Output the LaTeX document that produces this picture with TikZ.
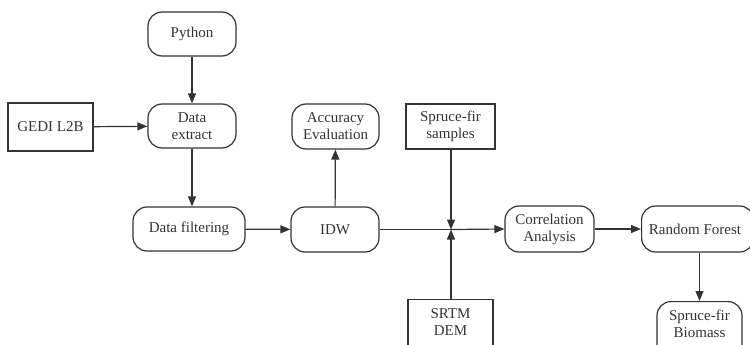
\documentclass[tikz,border=0pt]{standalone}
\usepackage{fontspec}
\setmainfont{Liberation Serif}
\usetikzlibrary{arrows.meta}
\definecolor{ink}{HTML}{333333}
\begin{document}
\begin{tikzpicture}[x=1pt,y=-1pt,
  every node/.style={font=\rmfamily\fontsize{15}{17}\selectfont, text=ink, align=center, inner sep=0pt},
  rbox/.style={draw=ink, line width=1.2pt, rounded corners=14pt},
  sbox/.style={draw=ink, line width=1.2pt},
  arr/.style={draw=ink, line width=1.2pt, -{Triangle[length=10pt,width=8pt]}},
  ln/.style={draw=ink, line width=1.2pt}]
\useasboundingbox (0,0) rectangle (750,345);
\node[rbox, minimum width=88pt, minimum height=44pt] (py) at (192,34) {Python};
\node[rbox, minimum width=88pt, minimum height=44pt] (de) at (192,126) {Data\\extract};
\node[sbox, minimum width=85pt, minimum height=48pt] (gedi) at (50.5,127) {GEDI L2B};
\node[rbox, minimum width=112pt, minimum height=44pt] (df) at (189,229) {Data filtering};
\node[rbox, minimum width=88pt, minimum height=45pt] (idw) at (335,229.5) {IDW};
\node[rbox, minimum width=87pt, minimum height=45pt] (acc) at (335.5,126.5) {Accuracy\\Evaluation};
\node[sbox, minimum width=89pt, minimum height=45pt] (sfs) at (450.5,126.5) {Spruce-fir\\samples};
\coordinate (j) at (451,229.5);
\node[sbox, minimum width=85pt, minimum height=60pt, anchor=north] (srtm) at (450.5,299) {};
\node at (450.5,322) {SRTM\\DEM};
\node[rbox, minimum width=89pt, minimum height=46pt] (ca) at (549.5,229) {Correlation\\Analysis};
\node[rbox, minimum width=112pt, minimum height=46pt, anchor=west] (rf) at (641,229) {};
\node at (695,229) {Random Forest};
\node[rbox, minimum width=85pt, minimum height=60pt, anchor=north] (bio) at (699.5,301) {};
\node at (699.5,324) {Spruce-fir\\Biomass};
\draw[arr] (py) -- (de);
\draw[arr] (gedi) -- (de);
\draw[arr] (de.south -| 192,0) -- (df.north -| 192,0);
\draw[arr] (df) -- (idw);
\draw[arr] (idw) -- (acc);
\draw[ln] (idw.east) -- (j);
\draw[arr] (j) -- (ca.west);
\draw[arr] (sfs.south -| j) -- (j);
\draw[arr] (srtm.north -| j) -- (j);
\draw[arr] (ca) -- (rf.west);
\draw[arr] (rf.south -| bio) -- (bio.north);
\end{tikzpicture}
\end{document}
